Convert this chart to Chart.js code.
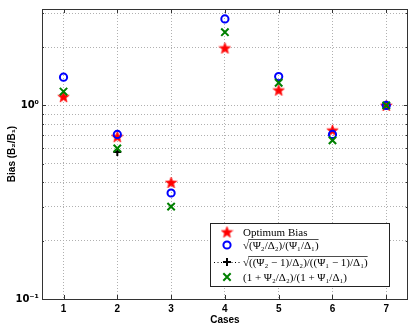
<!DOCTYPE html>
<html>
<head>
<meta charset="utf-8">
<script src="https://cdn.jsdelivr.net/npm/chart.js@4/dist/chart.umd.min.js"></script>
<style>
  body { margin: 0; background: #fff; }
  canvas { display: block; }
</style>
</head>
<body>
<canvas id="chart" width="415" height="326"></canvas>
<script>
// values (log scale)
const cases = [1, 2, 3, 4, 5, 6, 7];
const optimumBias = [1.11, 0.69, 0.40, 1.98, 1.20, 0.745, 1.0];
const sqrtRatio = [1.40, 0.708, 0.353, 2.80, 1.41, 0.708, 1.0];
const sqrtMinusOne = [null, 0.575, null, null, null, null, null];
const onePlusRatio = [1.18, 0.60, 0.30, 2.39, 1.31, 0.66, 1.0];
const yTicks = [0.1, 0.2, 0.3, 0.4, 0.5, 0.6, 0.7, 0.8, 0.9, 1, 2, 3];
const yLabels = { 0.1: "10\u207B\u00B9", 1: "10\u2070" };
const seriesNames = [
  "Optimum Bias",
  "sqrt1",
  "sqrt2",
  "(1 + \u03A8\u2082/\u0394\u2082)/(1 + \u03A8\u2081/\u0394\u2081)"
];

// filled five point star, like matlab 'p' marker
function makeStar(size) {
  const c = document.createElement("canvas");
  c.width = size; c.height = size;
  const g = c.getContext("2d");
  const cx = size / 2, cy = size / 2 + 0.5, R = size / 2 - 0.5, r = R * 0.42;
  g.beginPath();
  for (let i = 0; i < 10; i++) {
    const a = -Math.PI / 2 + i * Math.PI / 5;
    const rr = i % 2 === 0 ? R : r;
    g.lineTo(cx + rr * Math.cos(a), cy + rr * Math.sin(a));
  }
  g.closePath();
  g.fillStyle = "#ff0000";
  g.fill();
  g.strokeStyle = "#ff2020";
  g.lineWidth = 0.8;
  g.stroke();
  return c;
}
const star = makeStar(13);

function pts(arr) {
  return cases.map((c, i) => ({ x: c, y: arr[i] }));
}

const datasets = [
  { label: seriesNames[0], data: pts(optimumBias), pointStyle: star, order: 4,
    pointRadius: 6, borderColor: "#ff0000", backgroundColor: "#ff0000" },
  { label: seriesNames[1], data: pts(sqrtRatio), pointStyle: "circle", order: 3,
    pointRadius: 3.6, pointBorderWidth: 2, borderColor: "#0000ff", backgroundColor: "rgba(0,0,0,0)" },
  { label: seriesNames[2], data: pts(sqrtMinusOne), pointStyle: "cross", order: 2,
    pointRadius: 4, pointBorderWidth: 2, borderColor: "#000000", backgroundColor: "#000000" },
  { label: seriesNames[3], data: pts(onePlusRatio), pointStyle: "crossRot", order: 1,
    pointRadius: 5.2, pointBorderWidth: 2, borderColor: "#008000", backgroundColor: "#008000" }
];
datasets.forEach(d => { d.showLine = false; d.pointHoverRadius = d.pointRadius; });

// draw text with a sqrt overline over the radicand
function sqrtText(ctx, x, y, body) {
  ctx.fillText("\u221A", x, y);
  const w0 = ctx.measureText("\u221A").width;
  ctx.fillText(body, x + w0, y);
  const wb = ctx.measureText(body).width;
  ctx.save();
  ctx.lineWidth = 0.7;
  ctx.strokeStyle = "#000";
  ctx.beginPath();
  ctx.moveTo(x + w0 - 0.8, y - 9.5);
  ctx.lineTo(x + w0 + wb, y - 9.5);
  ctx.stroke();
  ctx.restore();
}

const framePlugin = {
  id: "frame",
  afterDraw(chart) {
    const ctx = chart.ctx, a = chart.chartArea;
    const xs = chart.scales.x, ys = chart.scales.y;
    ctx.save();
    ctx.strokeStyle = "#333";
    ctx.lineWidth = 1;
    ctx.strokeRect(Math.round(a.left) + 0.5, Math.round(a.top) + 0.5,
      Math.round(a.right - a.left) - 1, Math.round(a.bottom - a.top));
    ctx.beginPath();
    cases.forEach(c => {
      const px = Math.round(xs.getPixelForValue(c)) + 0.5;
      ctx.moveTo(px, a.bottom); ctx.lineTo(px, a.bottom - 4);
      ctx.moveTo(px, a.top); ctx.lineTo(px, a.top + 4);
    });
    yTicks.forEach(v => {
      const py = Math.round(ys.getPixelForValue(v)) + 0.5;
      const len = (v === 1 || v === 0.1) ? 4 : 2;
      ctx.moveTo(a.left, py); ctx.lineTo(a.left + len, py);
      ctx.moveTo(a.right, py); ctx.lineTo(a.right - len, py);
    });
    ctx.stroke();

    // legend box
    const L = 210, T = 223, W = 179, H = 63;
    ctx.fillStyle = "#fff";
    ctx.fillRect(L, T, W, H);
    ctx.strokeStyle = "#222";
    ctx.strokeRect(L + 0.5, T + 0.5, W, H);
    const rows = [232, 245, 262, 277];
    const mx = 227, tx = 243;
    // dotted line for the plus series
    ctx.save();
    ctx.setLineDash([1, 2.5]);
    ctx.lineWidth = 1;
    ctx.strokeStyle = "#000";
    ctx.beginPath();
    ctx.moveTo(214, rows[2] + 0.5); ctx.lineTo(241, rows[2] + 0.5);
    ctx.stroke();
    ctx.restore();
    datasets.forEach((d, i) => {
      ctx.fillStyle = d.backgroundColor;
      ctx.strokeStyle = d.borderColor;
      ctx.lineWidth = d.pointBorderWidth || 1;
      Chart.helpers.drawPoint(ctx, {
        pointStyle: d.pointStyle, rotation: 0, radius: d.pointRadius,
        borderWidth: d.pointBorderWidth || 1
      }, mx, rows[i]);
    });
    ctx.fillStyle = "#000";
    ctx.font = "11px 'Liberation Serif', 'DejaVu Serif', serif";
    ctx.textBaseline = "alphabetic";
    ctx.textAlign = "left";
    ctx.fillText(seriesNames[0], tx, rows[0] + 4);
    sqrtText(ctx, tx, rows[1] + 4, "(\u03A8\u2082/\u0394\u2082)/(\u03A8\u2081/\u0394\u2081)");
    sqrtText(ctx, tx, rows[2] + 4, "((\u03A8\u2082 \u2212 1)/\u0394\u2082)/((\u03A8\u2081 \u2212 1)/\u0394\u2081)");
    ctx.fillText(seriesNames[3], tx, rows[3] + 4);
    ctx.restore();
  }
};

new Chart(document.getElementById("chart"), {
  type: "scatter",
  data: { datasets: datasets },
  plugins: [framePlugin],
  options: {
    responsive: false,
    animation: false,
    layout: { padding: { top: 9, right: 6, left: 0, bottom: 0 } },
    plugins: { legend: { display: false }, tooltip: { enabled: false } },
    scales: {
      x: {
        type: "linear",
        min: 0.6, max: 7.4,
        afterBuildTicks: s => { s.ticks = cases.map(v => ({ value: v })); },
        afterFit: s => { s.height = 27; },
        grid: { color: "#b0b0b0", lineWidth: 1, drawTicks: false },
        border: { display: false, dash: [1, 2] },
        ticks: { color: "#000", padding: 4, font: { family: "'Liberation Sans', Arial, sans-serif", size: 10, weight: "bold" } },
        title: { display: true, text: "Cases", color: "#000", padding: { top: 0, bottom: 0 },
          font: { family: "'Liberation Sans', Arial, sans-serif", size: 10, weight: "bold" } }
      },
      y: {
        type: "logarithmic",
        min: 0.1, max: 3.15,
        afterBuildTicks: s => { s.ticks = yTicks.map(v => ({ value: v })); },
        afterFit: s => { s.width = 42; },
        grid: { color: "#b0b0b0", lineWidth: 1, drawTicks: false },
        border: { display: false, dash: [1, 2] },
        ticks: {
          color: "#000", padding: 3, autoSkip: false,
          font: { family: "'DejaVu Sans', 'Liberation Sans', sans-serif", size: 10, weight: "bold" },
          callback: v => yLabels[v] || ""
        },
        title: { display: true, text: "Bias (B\u2082/B\u2081)", color: "#000", padding: { top: 6, bottom: 0 },
          font: { family: "'Liberation Sans', Arial, sans-serif", size: 10, weight: "bold" } }
      }
    }
  }
});
</script>
</body>
</html>
